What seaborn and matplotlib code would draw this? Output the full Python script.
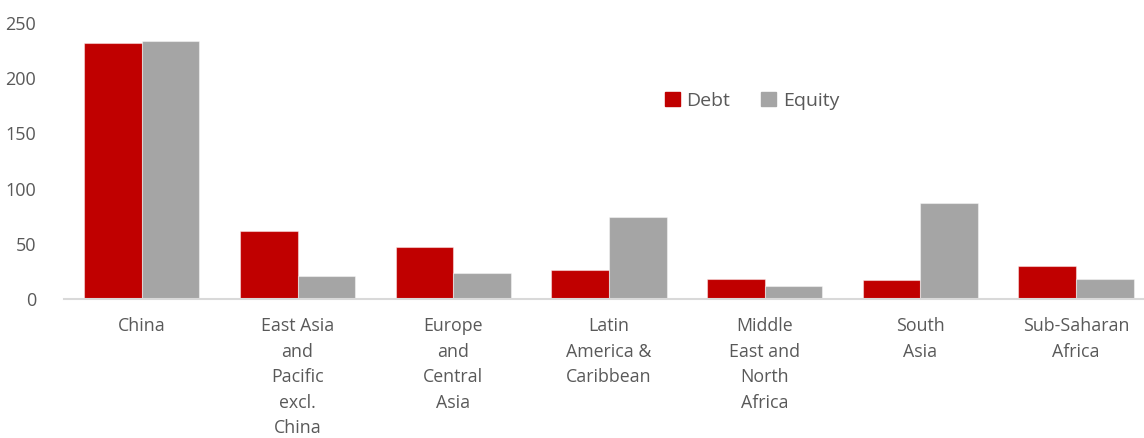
import numpy as np
import pandas as pd
import matplotlib
matplotlib.use("Agg")
import matplotlib.pyplot as plt
import seaborn as sns

regions = [
    "China",
    "East Asia\nand\nPacific\nexcl.\nChina",
    "Europe\nand\nCentral\nAsia",
    "Latin\nAmerica &\nCaribbean",
    "Middle\nEast and\nNorth\nAfrica",
    "South\nAsia",
    "Sub-Saharan\nAfrica",
]
debt = [232, 61.3, 46.8, 26.3, 17.8, 16.9, 29.6]
equity = [233.4, 20.8, 23.5, 74, 11.5, 86.7, 17.8]
series = ["Debt", "Equity"]
colors = ["#C00000", "#A5A5A5"]
y_ticks = [0, 50, 100, 150, 200, 250]

df = pd.DataFrame({
    "region": regions * 2,
    "value": debt + equity,
    "series": [series[0]] * len(regions) + [series[1]] * len(regions),
})

sns.set_theme(style="white")
plt.rcParams["font.family"] = ["Open Sans", "DejaVu Sans"]

fig = plt.figure(figsize=(11.44, 4.38), dpi=100)
ax = fig.add_axes([64 / 1144, 139 / 438, 1 - 64 / 1144, (299 - 23) / 438])

sns.barplot(
    data=df, x="region", y="value", hue="series",
    order=regions, hue_order=series, palette=colors,
    width=0.74, saturation=1, edgecolor=(1, 1, 1, 0.45), linewidth=0.8,
    errorbar=None, ax=ax, legend=False,
)

ax.set_xlim(-0.5, 6.437)
ax.set_ylim(0, 250)
ax.set_yticks(y_ticks)
ax.set_xlabel("")
ax.set_ylabel("")

for s in ["top", "right", "left"]:
    ax.spines[s].set_visible(False)
ax.spines["bottom"].set_color("#D9D9D9")
ax.spines["bottom"].set_linewidth(1.5)

ax.tick_params(axis="y", length=0, pad=20, labelsize=13, labelcolor="#595959")
ax.tick_params(axis="x", length=0, pad=13, labelsize=12.8, labelcolor="#595959")
for lbl in ax.get_xticklabels():
    lbl.set_linespacing(1.54)
    lbl.set_verticalalignment("top")

handles = [plt.Rectangle((0, 0), 1, 1, color=c) for c in colors]
fig.legend(
    handles, series, loc="center", bbox_to_anchor=(752 / 1144, 1 - 101 / 438),
    ncol=2, frameon=False, handlelength=0.75, handleheight=0.75,
    handletextpad=0.35, columnspacing=1.6, prop={"size": 14},
    labelcolor="#595959",
)

fig.savefig("out.png", dpi=100)
